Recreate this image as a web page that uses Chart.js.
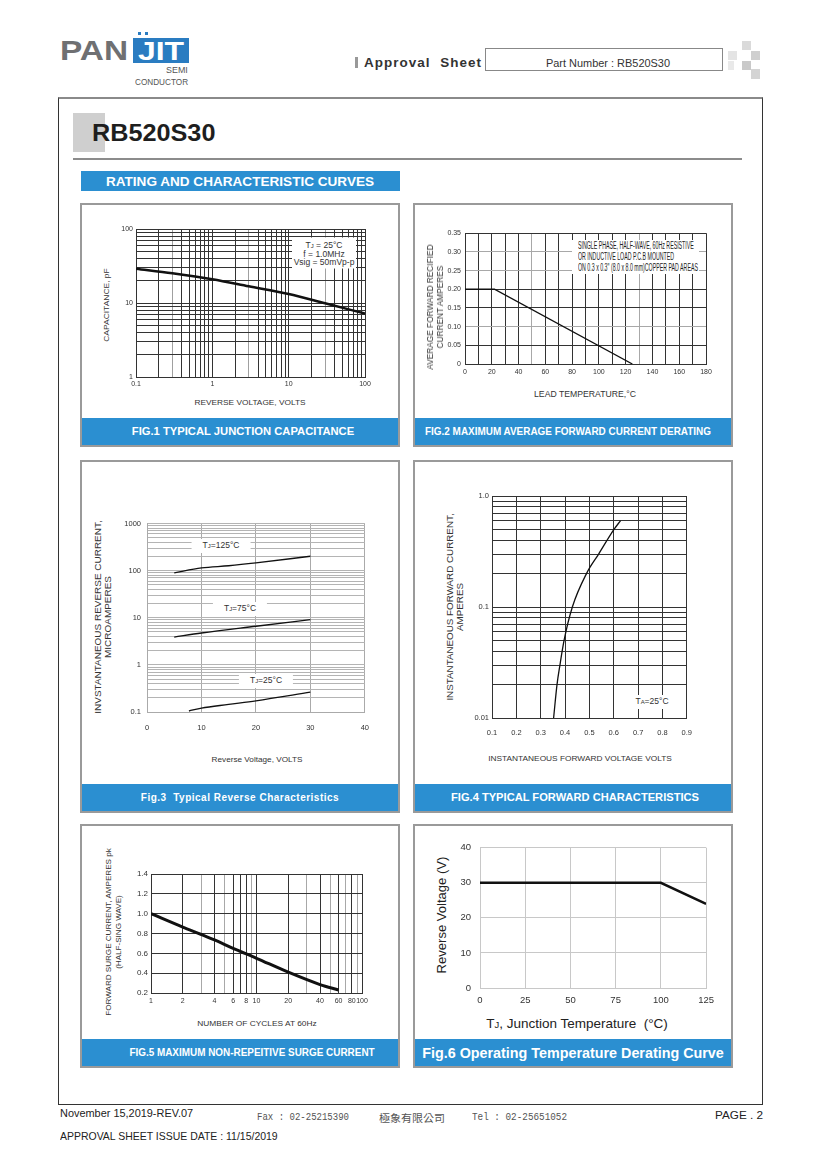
<!DOCTYPE html>
<html>
<head>
<meta charset="utf-8">
<script src="https://cdn.jsdelivr.net/npm/chart.js@4.4.0/dist/chart.umd.min.js"></script>
<style>
body { margin: 0; background: #fff; font-family: "Liberation Sans", Arial, sans-serif; color: #333; }
#page { position: relative; width: 820px; height: 1161px; overflow: hidden; }
.a { position: absolute; white-space: nowrap; transform-origin: 0 50%; }
.xt { position: absolute; white-space: nowrap; transform: translate(-50%, -50%); }
.yt { position: absolute; white-space: nowrap; text-align: center; transform: translate(-50%, -50%) rotate(-90deg); }
.box { position: absolute; }
.panel { position: absolute; border: 2px solid #9a9a9a; box-sizing: border-box; }
.cap { position: absolute; left: 0; right: 0; bottom: 0; height: 27px; background: #2b8fd1; }
.capt { color: #fff; font-weight: bold; font-size: 10px; line-height: 10px; }
.tag { position: absolute; white-space: nowrap; background: #fff; transform: translate(-50%, -50%); text-align: center; }
sub { font-size: 70%; vertical-align: baseline; }
canvas { position: absolute; }
</style>
</head>
<body>
<div id="page">

<!-- header -->
<div class="a" style="left:60px;top:37px;font-size:28px;line-height:28px;font-weight:bold;color:#6f7072;" data-w="68">PAN</div>
<div class="box" style="left:133px;top:38px;width:56px;height:25px;background:#2a7cc1;"></div>
<div class="box" style="left:138px;top:32px;width:3px;height:3px;background:#2a7cc1;"></div>
<div class="box" style="left:145px;top:32px;width:3px;height:3px;background:#2a7cc1;"></div>
<div class="xt" style="left:161px;top:51px;font-size:25px;line-height:25px;font-weight:bold;color:#fff;" data-w="46">JIT</div>
<div class="a" style="left:166px;top:66px;font-size:8.5px;line-height:9px;color:#555;" data-w="22">SEMI</div>
<div class="a" style="left:135px;top:78px;font-size:8.5px;line-height:9px;color:#555;" data-w="53">CONDUCTOR</div>

<div class="box" style="left:355px;top:57px;width:3px;height:11px;background:#999;"></div>
<div class="a" style="left:364px;top:56px;font-size:13px;line-height:13px;font-weight:bold;letter-spacing:1px;color:#333;" data-w="118">Approval&nbsp;&nbsp;Sheet</div>
<div class="box" style="left:485px;top:48px;width:236px;height:21px;border:1px solid #888;"></div>
<div class="xt" style="left:608px;top:63px;font-size:10.5px;line-height:11px;color:#333;" data-w="124">Part Number : RB520S30</div>

<div class="box" style="left:742px;top:41px;width:9px;height:9px;background:#dadada;"></div>
<div class="box" style="left:728px;top:51px;width:9px;height:9px;background:#e4e4e4;"></div>
<div class="box" style="left:751px;top:51px;width:9px;height:9px;background:#cfcfcf;"></div>
<div class="box" style="left:742px;top:61px;width:9px;height:9px;background:#c9c9c9;"></div>
<div class="box" style="left:728px;top:61px;width:6px;height:9px;background:#e9e9e9;"></div>
<div class="box" style="left:751px;top:69px;width:9px;height:10px;background:#d4d4d4;"></div>

<!-- main frame -->
<div class="box" style="left:58px;top:97px;width:703px;height:1005px;border:1px solid #333;border-top:2px solid #8a8a8a;"></div>
<div class="box" style="left:73px;top:113px;width:32px;height:39px;background:#cfcfcf;"></div>
<div class="a" style="left:92px;top:121px;font-size:24px;line-height:24px;font-weight:bold;color:#1e1e1e;" data-w="123">RB520S30</div>
<div class="box" style="left:73px;top:158px;width:669px;height:2px;background:#8c8c8c;"></div>
<div class="box" style="left:81px;top:171px;width:319px;height:20px;background:#2b8fd1;"></div>
<div class="xt" style="left:240px;top:182px;font-size:12px;line-height:12px;font-weight:bold;color:#fff;" data-w="268">RATING AND CHARACTERISTIC CURVES</div>

<!-- panels -->
<div class="panel" style="left:80px;top:203px;width:320px;height:244px;"><div class="cap"></div></div>
<div class="panel" style="left:413px;top:203px;width:320px;height:244px;"><div class="cap"></div></div>
<div class="panel" style="left:80px;top:460px;width:320px;height:353px;"><div class="cap"></div></div>
<div class="panel" style="left:413px;top:460px;width:320px;height:353px;"><div class="cap"></div></div>
<div class="panel" style="left:80px;top:824px;width:320px;height:244px;"><div class="cap"></div></div>
<div class="panel" style="left:413px;top:824px;width:320px;height:244px;"><div class="cap"></div></div>

<canvas id="c1"></canvas>
<canvas id="c2"></canvas>
<canvas id="c3"></canvas>
<canvas id="c4"></canvas>
<canvas id="c5"></canvas>
<canvas id="c6"></canvas>

<!-- fig 1 texts -->
<div class="tag" style="left:324px;top:253px;width:64px;padding:3px 0;font-size:8.5px;line-height:8px;color:#333;">T<sub>J</sub> = 25°C<br>f = 1.0MHz<br>Vsig = 50mVp-p</div>
<div class="yt" style="left:107px;top:305px;font-size:8px;line-height:8px;" data-w="74">CAPACITANCE, pF</div>
<div class="xt" style="left:250px;top:403px;font-size:8px;line-height:8px;" data-w="111">REVERSE VOLTAGE, VOLTS</div>
<div class="xt capt" style="left:243px;top:432px;" data-w="222">FIG.1 TYPICAL JUNCTION CAPACITANCE</div>

<!-- fig 2 texts -->
<div class="box" style="left:572px;top:240px;width:127px;height:34px;background:#fff;"></div>
<div class="a" style="left:578px;top:241px;font-family:'Liberation Sans Narrow','Liberation Sans',Arial,sans-serif;font-size:10px;line-height:10.8px;color:#222;" data-w="120">SINGLE PHASE, HALF-WAVE, 60Hz RESISTIVE<br>OR INDUCTIVE LOAD P.C.B MOUNTED<br>ON 0.3 x 0.3" (8.0 x 8.0 mm)COPPER PAD AREAS</div>
<div class="yt" style="left:435px;top:307px;font-size:8.5px;line-height:10px;" data-w="125">AVERAGE FORWARD RECIFIED<br>CURRENT AMPERES</div>
<div class="xt" style="left:585px;top:394px;font-size:8.5px;line-height:9px;" data-w="102">LEAD TEMPERATURE,°C</div>
<div class="xt capt" style="left:568px;top:432px;" data-w="286">FIG.2 MAXIMUM AVERAGE FORWARD CURRENT DERATING</div>

<!-- fig 3 texts -->
<div class="tag" style="left:221px;top:546px;padding:2px 11px;font-size:8.5px;line-height:9px;">T<sub>J</sub>=125°C</div>
<div class="tag" style="left:240px;top:609px;padding:2px 11px;font-size:8.5px;line-height:9px;">T<sub>J</sub>=75°C</div>
<div class="tag" style="left:266px;top:681px;padding:2px 11px;font-size:8.5px;line-height:9px;">T<sub>J</sub>=25°C</div>
<div class="yt" style="left:103px;top:617px;font-size:9.5px;line-height:10px;" data-w="193">INVSTANTANEOUS REVERSE CURRENT,<br>MICROAMPERES</div>
<div class="xt" style="left:257px;top:760px;font-size:8px;line-height:8px;" data-w="91">Reverse Voltage, VOLTS</div>
<div class="xt capt" style="left:240px;top:798px;letter-spacing:0.5px;" data-w="198">Fig.3&nbsp; Typical Reverse Characteristics</div>

<!-- fig 4 texts -->
<div class="tag" style="left:652px;top:702px;padding:2px 3px;font-size:8.5px;line-height:9px;">T<sub>A</sub>=25°C</div>
<div class="yt" style="left:455px;top:607px;font-size:9.5px;line-height:10px;" data-w="187">INSTANTANEOUS FORWARD CURRENT,<br>AMPERES</div>
<div class="xt" style="left:580px;top:759px;font-size:8px;line-height:8px;" data-w="184">INSTANTANEOUS FORWARD VOLTAGE VOLTS</div>
<div class="xt capt" style="left:575px;top:798px;" data-w="248">FIG.4 TYPICAL FORWARD CHARACTERISTICS</div>

<!-- fig 5 texts -->
<div class="yt" style="left:114px;top:932px;font-size:7.5px;line-height:10px;" data-w="167">FORWARD SURGE CURRENT, AMPERES pk<br>(HALF-SING WAVE)</div>
<div class="xt" style="left:257px;top:1024px;font-size:8px;line-height:8px;" data-w="119">NUMBER OF CYCLES AT 60Hz</div>
<div class="xt capt" style="left:252px;top:1053px;" data-w="245">FIG.5 MAXIMUM NON-REPEITIVE SURGE CURRENT</div>

<!-- fig 6 texts -->
<div class="yt" style="left:442px;top:915px;font-size:13.5px;line-height:14px;color:#222;" data-w="117">Reverse Voltage (V)</div>
<div class="xt" style="left:577px;top:1024px;font-size:13.5px;line-height:14px;color:#222;">T<sub>J</sub>, Junction Temperature&nbsp; (°C)</div>
<div class="xt capt" style="left:573px;top:1053px;font-size:14px;line-height:14px;" data-w="302">Fig.6 Operating Temperature Derating Curve</div>

<!-- footer -->
<div class="a" style="left:60px;top:1108px;font-size:11px;line-height:11px;color:#222;" data-w="133">November 15,2019-REV.07</div>
<div class="a" style="left:257px;top:1113px;font-family:'Liberation Mono',monospace;font-size:10px;line-height:10px;color:#555;" data-w="92">Fax : 02-25215390</div>
<div class="a" style="left:379px;top:1112px;font-family:'Noto Sans CJK TC',sans-serif;font-size:10.5px;line-height:11px;color:#555;" data-w="66">極象有限公司</div>
<div class="a" style="left:472px;top:1113px;font-family:'Liberation Mono',monospace;font-size:10px;line-height:10px;color:#555;" data-w="95">Tel : 02-25651052</div>
<div class="a" style="left:715px;top:1110px;font-size:11px;line-height:11px;color:#222;" data-w="48">PAGE . 2</div>
<div class="a" style="left:60px;top:1131px;font-size:11px;line-height:11px;color:#222;" data-w="218">APPROVAL SHEET ISSUE DATE : 11/15/2019</div>

</div>

<script>
// ---- chart data ----

// Fig.1 typical junction capacitance (pF vs reverse volts)
const fig1Volts = [0.1, 0.3, 1, 3, 10, 30, 100];
const fig1Cap = [29.1, 25.2, 20.9, 16.8, 13.2, 9.9, 7.2];
const fig1VoltLabels = [0.1, 1, 10, 100];
const fig1CapLabels = [1, 10, 100];

// Fig.2 forward current derating (A vs lead temperature)
const fig2Temp = [0, 22, 125];
const fig2Amps = [0.2, 0.2, 0];
const fig2TempTicks = [0, 10, 20, 30, 40, 50, 60, 70, 80, 90, 100, 110, 120, 130, 140, 150, 160, 170, 180];
const fig2AmpTicks = [0, 0.05, 0.1, 0.15, 0.2, 0.25, 0.3, 0.35];

// Fig.3 reverse current (uA) vs reverse volts
const fig3Volts125 = [5, 10, 15, 20, 30];
const fig3Amps125 = [90, 114, 127, 146, 202];
const fig3Volts75 = [5, 10, 20, 30];
const fig3Amps75 = [3.9, 4.75, 6.6, 9.1];
const fig3Volts25 = [7.7, 10, 15, 20, 30];
const fig3Amps25 = [0.105, 0.121, 0.145, 0.173, 0.263];
const fig3VoltTicks = [0, 10, 20, 30, 40];
const fig3AmpLabels = [0.1, 1, 10, 100, 1000];

// Fig.4 forward current (A) vs forward volts
const fig4Volts = [0.353, 0.367, 0.379, 0.396, 0.43, 0.488, 0.538, 0.601, 0.628];
const fig4Amps = [0.01, 0.02, 0.03, 0.05, 0.1, 0.2, 0.3, 0.5, 0.6];
const fig4VoltTicks = [0.1, 0.2, 0.3, 0.4, 0.5, 0.6, 0.7, 0.8, 0.9];
const fig4AmpLabels = { 0.01: '0.01', 0.1: '0.1', 1: '1.0' };

// Fig.5 surge current vs number of cycles
const fig5Cycles = [1, 2, 3, 4, 6, 10, 20, 40, 60];
const fig5Amps = [1.0, 0.865, 0.79, 0.735, 0.65, 0.55, 0.41, 0.285, 0.23];
const fig5CycleLabels = [1, 2, 4, 6, 8, 10, 20, 40, 60, 80, 100];
const fig5AmpTicks = [0.2, 0.4, 0.6, 0.8, 1.0, 1.2, 1.4];

// Fig.6 operating temperature derating
const fig6Temp = [0, 100, 125];
const fig6Volts = [30, 30, 24];
const fig6TempTicks = [0, 25, 50, 75, 100, 125];
const fig6VoltTicks = [0, 10, 20, 30, 40];

// stretch text to the widths measured on the sheet
document.querySelectorAll('[data-w]').forEach(el => {
    const k = el.dataset.w / el.offsetWidth;
    const t = getComputedStyle(el).transform;
    el.style.transform = (t === 'none' ? '' : t + ' ') + 'scaleX(' + k + ')';
});

Chart.defaults.font.family = '"Liberation Sans", Arial, sans-serif';
Chart.defaults.color = '#333';
Chart.defaults.animation = false;
Chart.defaults.responsive = false;
Chart.defaults.plugins.legend.display = false;
Chart.defaults.plugins.tooltip.enabled = false;

function logTicks(lo, hi) {
    let out = [];
    for (let e = Math.floor(Math.log10(lo)); e <= Math.ceil(Math.log10(hi)); e++) {
        for (let m = 1; m <= 9; m++) {
            let v = +(m * Math.pow(10, e)).toPrecision(6);
            if (v >= lo * 0.999 && v <= hi * 1.001) out.push(v);
        }
    }
    return out;
}

function near(list, v) {
    return list.some(x => Math.abs(x - v) < 1e-6 * Math.max(1, Math.abs(x)));
}

function pts(xs, ys) {
    return xs.map((x, i) => ({ x: x, y: ys[i] }));
}

function axis(o) {
    return {
        type: o.type || 'linear',
        min: o.min,
        max: o.max,
        afterFit: s => { if (s.isHorizontal()) s.height = o.size; else s.width = o.size; },
        afterBuildTicks: s => { s.ticks = o.ticks.map(v => ({ value: v })); },
        grid: { color: o.grid, lineWidth: 1, drawTicks: false },
        border: { color: o.border || '#333', width: 1 },
        ticks: {
            autoSkip: false, maxRotation: 0, minRotation: 0, padding: o.pad,
            color: '#333', font: { size: o.font, family: o.family },
            callback: o.label
        }
    };
}

// area = plot box on the page [left, top, right, bottom]
function makeChart(id, area, yW, xH, datasets, xAxis, yAxis) {
    let cv = document.getElementById(id);
    let w = (area[2] - area[0]) + yW + 12;
    let h = 8 + (area[3] - area[1]) + xH;
    cv.width = w;
    cv.height = h;
    cv.style.left = (area[0] - yW) + 'px';
    cv.style.top = (area[1] - 8) + 'px';
    xAxis.size = xH;
    yAxis.size = yW;
    return new Chart(cv.getContext('2d'), {
        type: 'line',
        data: { datasets: datasets },
        options: {
            devicePixelRatio: 1,
            layout: { padding: { top: 8, right: 12, left: 0, bottom: 0 } },
            elements: { point: { radius: 0 } },
            scales: { x: axis(xAxis), y: axis(yAxis) }
        }
    });
}

function curve(data, width, smooth) {
    return {
        data: data,
        borderColor: '#111',
        borderWidth: width,
        fill: false,
        cubicInterpolationMode: smooth ? 'monotone' : 'default',
        tension: 0
    };
}

// Fig.1
makeChart('c1', [136, 229, 365, 377], 24, 16,
    [curve(pts(fig1Volts, fig1Cap), 2.5, true)],
    { type: 'logarithmic', min: 0.1, max: 100, ticks: logTicks(0.1, 100), pad: 3, font: 7,
      grid: c => (c.tick && String(c.tick.value).replace(/[0.]/g, '') === '3') ? '#a0a0a0' : '#333',
      label: v => near(fig1VoltLabels, v) ? String(v) : '' },
    { type: 'logarithmic', min: 1, max: 100, ticks: logTicks(1, 100), pad: 3, font: 7, grid: '#333',
      label: v => near(fig1CapLabels, v) ? String(v) : '' });

// Fig.2
makeChart('c2', [465, 233, 706, 364], 22, 14,
    [curve(pts(fig2Temp, fig2Amps), 1.3, false)],
    { min: 0, max: 180, ticks: fig2TempTicks, pad: 4, font: 7, family: '"Liberation Sans Narrow", Arial, sans-serif',
      grid: c => (c.tick && (c.tick.value === 50 || c.tick.value === 130)) ? '#a8a8a8' : '#333',
      label: v => v % 20 === 0 ? String(v) : '' },
    { min: 0, max: 0.35, ticks: fig2AmpTicks, pad: 4, font: 7, family: '"Liberation Sans Narrow", Arial, sans-serif',
      grid: c => (c.tick && near([0.1, 0.25, 0.3], c.tick.value)) ? '#a8a8a8' : '#333',
      label: v => v === 0 ? '0' : v.toFixed(2) });

// Fig.3
makeChart('c3', [147, 521, 368, 712], 28, 22,
    [curve(pts(fig3Volts125, fig3Amps125), 1.3, true),
     curve(pts(fig3Volts75, fig3Amps75), 1.3, true),
     curve(pts(fig3Volts25, fig3Amps25), 1.3, true)],
    { min: 0, max: 40, ticks: fig3VoltTicks, pad: 11, font: 7.5, grid: '#aaa', border: '#aaa',
      label: v => String(v) },
    { type: 'logarithmic', min: 0.1, max: 1000, ticks: logTicks(0.1, 1000), pad: 6, font: 7.5, grid: '#b4b4b4', border: '#aaa',
      label: v => near(fig3AmpLabels, v) ? String(v) : '' });

// Fig.4
makeChart('c4', [492, 496, 690, 718], 22, 22,
    [curve(pts(fig4Volts, fig4Amps), 1.3, true)],
    { min: 0.1, max: 0.9, ticks: fig4VoltTicks, pad: 10, font: 7.5, grid: '#333',
      label: v => v.toFixed(1) },
    { type: 'logarithmic', min: 0.01, max: 1, ticks: logTicks(0.01, 1), pad: 3, font: 7.5, grid: '#333',
      label: v => fig4AmpLabels[v] || '' });

// Fig.5
makeChart('c5', [151, 874, 362, 993], 20, 14,
    [curve(pts(fig5Cycles, fig5Amps), 3, true)],
    { type: 'logarithmic', min: 1, max: 100, ticks: logTicks(1, 100), pad: 4, font: 7,
      grid: c => (c.tick && (near(fig5CycleLabels, c.tick.value) || c.tick.value === 7)) ? '#333' : '#a8a8a8',
      label: v => near(fig5CycleLabels, v) ? String(v) : '' },
    { min: 0.2, max: 1.4, ticks: fig5AmpTicks, pad: 3, font: 8, grid: '#333',
      label: v => v.toFixed(1) });

// Fig.6
makeChart('c6', [480, 841, 709, 988], 26, 22,
    [curve(pts(fig6Temp, fig6Volts), 2.5, false)],
    { min: 0, max: 125, ticks: fig6TempTicks, pad: 7, font: 9.5, grid: '#c8c8c8', border: '#c8c8c8',
      label: v => String(v) },
    { min: 0, max: 40, ticks: fig6VoltTicks, pad: 9, font: 9.5, grid: '#c8c8c8', border: '#c8c8c8',
      label: v => String(v) });
</script>
</body>
</html>
